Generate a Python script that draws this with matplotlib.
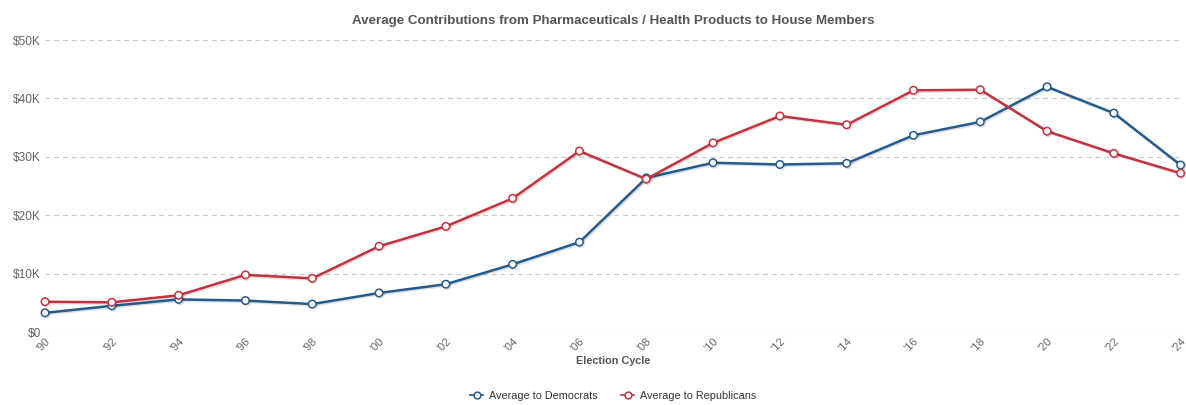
import matplotlib
matplotlib.use("Agg")
import matplotlib.pyplot as plt
import matplotlib.patheffects as pe
from matplotlib.ticker import FuncFormatter

plt.rcParams['font.family'] = ['Liberation Sans', 'DejaVu Sans']

cycles = [1990, 1992, 1994, 1996, 1998, 2000, 2002, 2004, 2006,
          2008, 2010, 2012, 2014, 2016, 2018, 2020, 2022, 2024]
cycle_labels = ["'" + str(y)[2:] for y in cycles]
avg_dem = [3300, 4500, 5600, 5400, 4800, 6700, 8200, 11600, 15400,
           26400, 29000, 28700, 28900, 33700, 36000, 42000, 37500, 28600]
avg_rep = [5200, 5100, 6300, 9800, 9200, 14700, 18100, 22900, 31000,
           26200, 32400, 37000, 35500, 41400, 41500, 34400, 30600, 27200]

dem_color = '#245b8d'
rep_color = '#c3323f'
text_grey = '#555555'

fig = plt.figure(figsize=(11.86, 4.05), dpi=100)
ax = fig.add_axes([0.038, 0.180, 0.9575, 0.721])

shadow = [pe.SimpleLineShadow(offset=(1, -1), alpha=0.12, shadow_color='black'), pe.Normal()]
for vals, col, name in [(avg_dem, dem_color, 'Average to Democrats'),
                        (avg_rep, rep_color, 'Average to Republicans')]:
    ax.plot(cycles, vals, color=col, lw=1.8, marker='o', ms=5.4,
            mfc='white', mec=col, mew=1.1, clip_on=False, zorder=3,
            label=name, path_effects=shadow)

ax.set_xlim(1990, 2024)
ax.set_ylim(0, 50000)
ax.set_yticks(range(0, 50001, 10000))
ax.yaxis.set_major_formatter(FuncFormatter(lambda v, p: '$0' if v == 0 else f'${int(v / 1000)}K'))
ax.set_xticks(cycles)
ax.set_xticklabels(cycle_labels, rotation=45, ha='right', va='top',
                   rotation_mode='anchor')

ax.grid(axis='y', color='#cccccc', ls=(0, (4, 3)), lw=0.9)
ax.set_axisbelow(True)
for s in ax.spines.values():
    s.set_visible(False)
ax.tick_params(axis='x', length=0, labelsize=8, colors='#666666', pad=3)
ax.tick_params(axis='y', length=0, labelsize=8.6, colors='#666666', pad=3)

ax.set_xlabel('Election Cycle', fontsize=7.8, fontweight='bold', color=text_grey, labelpad=2)
fig.text(0.517, 0.948, 'Average Contributions from Pharmaceuticals / Health Products to House Members',
         ha='center', va='center', fontsize=9.6, fontweight='bold', color=text_grey)

leg = fig.legend(loc='center', bbox_to_anchor=(0.517, 0.022), ncol=2, frameon=False,
                 fontsize=7.8, handlelength=1.2, columnspacing=2.2, handletextpad=0.5,
                 markerscale=0.9)
for t in leg.get_texts():
    t.set_color('#333333')
for h in leg.legend_handles:
    h.set_linewidth(1.2)
    h.set_path_effects([])

fig.savefig('out.png', dpi=100, facecolor='white')
